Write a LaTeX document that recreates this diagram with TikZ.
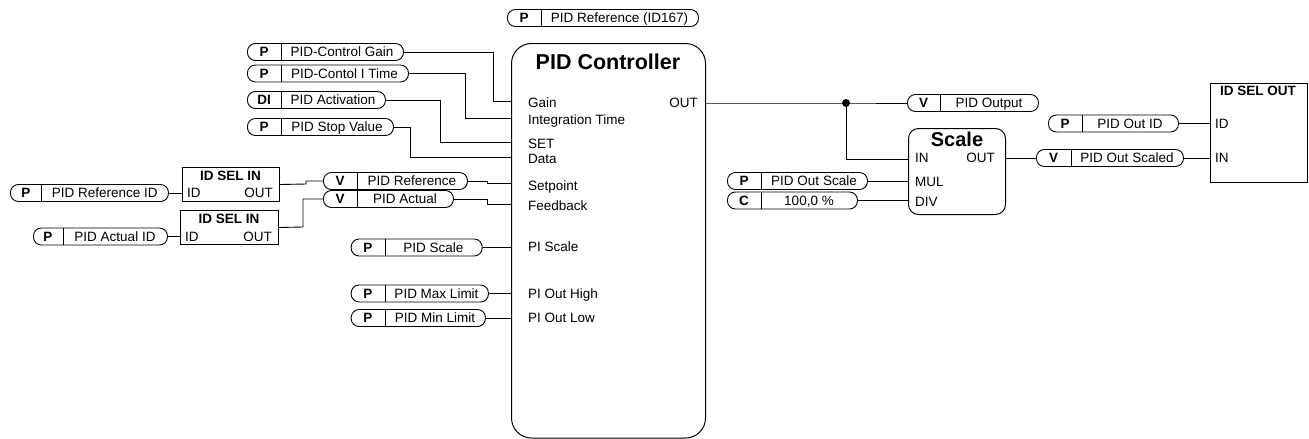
\documentclass[tikz,border=0pt]{standalone}
\usepackage{fontspec}
\setmainfont{Liberation Sans}
\tikzset{
  wire/.style={line width=0.9pt, black},
  pillbox/.style={draw, line width=0.9pt, rounded corners=8pt, minimum height=17pt, inner sep=0pt},
  txt/.style={inner sep=0pt, font=\fontsize{13.5}{16}\selectfont, text height=9.7pt, text depth=0pt},
  btxt/.style={txt, font=\bfseries\fontsize{13.5}{16}\selectfont},
  lbl/.style={txt, anchor=west},
  rlbl/.style={txt, anchor=east},
  blockbox/.style={draw, line width=1pt, inner sep=0pt, anchor=north west},
}
\newcommand\pillnode[7]{%
  \node[pillbox, minimum width={(#4-#2)*1pt}, anchor=west] (#1) at (#2,#5) {};
  \draw[line width=0.9pt] (#3,#5-8.5) -- (#3,#5+8.5);
  \node[btxt] (#1-t) at ({(#2+#3)/2},#5) {#6};
  \node[txt] (#1-l) at ({(#3+#4)/2},#5) {#7};
}
\begin{document}
\begin{tikzpicture}[x=1pt,y=-1pt]
\useasboundingbox (0,0) rectangle (1309,439);

% ---------- PID controller block ----------
\node[blockbox, rounded corners=20pt, minimum width=194pt, minimum height=394.5pt] (pid) at (511,43) {};
\node[font=\bfseries\fontsize{21.5}{24}\selectfont, inner sep=0pt] (pidtitle) at (608,62) {PID Controller};
\node[lbl] (lgain) at (528,103) {Gain};
\node[lbl] (lit) at (528,119.5) {Integration Time};
\node[lbl] (lset) at (528,143.5) {SET};
\node[lbl] (ldata) at (528,159) {Data};
\node[lbl] (lsp) at (528,186) {Setpoint};
\node[lbl] (lfb) at (528,206) {Feedback};
\node[lbl] (lpis) at (528,246.5) {PI Scale};
\node[lbl] (lhigh) at (528,293.5) {PI Out High};
\node[lbl] (llow) at (528,318) {PI Out Low};
\node[rlbl] (lout) at (698,103) {OUT};

\coordinate (pgain) at (511,101);
\coordinate (pit) at (511,118);
\coordinate (pset) at (511,142.5);
\coordinate (pdata) at (511,157);
\coordinate (psp) at (511,183.5);
\coordinate (pfb) at (511,204);
\coordinate (pout) at (705,103);

% ---------- pills ----------
\pillnode{topp}{507}{541}{698}{18}{P}{PID Reference (ID167)}
\pillnode{gainp}{247}{281}{403}{52}{P}{PID-Control Gain}
\pillnode{itimep}{247}{281}{408}{73.5}{P}{PID-Contol I Time}
\pillnode{actp}{247}{281}{385}{100}{DI}{PID Activation}
\pillnode{stopp}{247}{281}{393}{127}{P}{PID Stop Value}
\pillnode{refidp}{10}{41.7}{168}{193}{P}{PID Reference ID}
\pillnode{actidp}{33}{63}{167}{236.5}{P}{PID Actual ID}
\pillnode{vref}{323}{357}{467}{181}{V}{PID Reference}
\pillnode{vact}{323}{357}{453}{199}{V}{PID Actual}
\pillnode{scalep}{350.7}{385}{481.7}{247.5}{P}{PID Scale}
\pillnode{maxp}{350.7}{385}{488}{293.5}{P}{PID Max Limit}
\pillnode{minp}{350.7}{385}{485}{318}{P}{PID Min Limit}
\pillnode{voutp}{907}{940}{1038}{103}{V}{PID Output}
\pillnode{outscalep}{727}{761}{867}{181}{P}{PID Out Scale}
\pillnode{cp}{727}{761}{857}{200.5}{C}{100,0 \%}
\pillnode{outscaledp}{1036}{1071}{1183}{158}{V}{PID Out Scaled}
\pillnode{outidp}{1048}{1082}{1178}{123.5}{P}{PID Out ID}

% ---------- ID SEL IN blocks ----------
\node[blockbox, minimum width=97pt, minimum height=34pt] (idsel1) at (182,167) {};
\node[btxt] (idsel1t) at (230.5,175.5) {ID SEL IN};
\node[lbl] (idsel1id) at (187,193) {ID};
\node[rlbl] (idsel1out) at (273,193) {OUT};

\node[blockbox, minimum width=98pt, minimum height=34pt] (idsel2) at (180,210) {};
\node[btxt] (idsel2t) at (229,219) {ID SEL IN};
\node[lbl] (idsel2id) at (185,236.5) {ID};
\node[rlbl] (idsel2out) at (272,236.5) {OUT};

% ---------- Scale block ----------
\node[blockbox, rounded corners=10pt, minimum width=97pt, minimum height=86pt] (scale) at (908,128) {};
\node[font=\bfseries\fontsize{20}{22}\selectfont, inner sep=0pt] (scalet) at (957,139) {Scale};
\node[lbl] (sin) at (915,158) {IN};
\node[rlbl] (sout) at (995,158) {OUT};
\node[lbl] (smul) at (915,182) {MUL};
\node[lbl] (sdiv) at (915,202) {DIV};
\coordinate (scalein) at (908,159);
\coordinate (scaleout) at (1005,158);

% ---------- ID SEL OUT block ----------
\node[blockbox, minimum width=97pt, minimum height=99pt] (idselout) at (1210,83) {};
\node[btxt] (idseloutt) at (1258,91) {ID SEL OUT};
\node[lbl] (oid) at (1215,123.5) {ID};
\node[lbl] (oin) at (1215,158) {IN};

% ---------- connectors ----------
\draw[wire] (gainp.east) -| (493,101) -- (pgain);
\draw[wire] (itimep.east) -| (465,118) -- (pit);
\draw[wire] (actp.east) -| (440,142.5) -- (pset);
\draw[wire] (stopp.east) -| (410,157) -- (pdata);
\draw[wire] (vref.east) -| (487,183.5) -- (psp);
\draw[wire] (vact.east) -| (487,204) -- (pfb);
\draw[wire] (scalep.east) -- (scalep.east -| pid.west);
\draw[wire] (maxp.east) -- (maxp.east -| pid.west);
\draw[wire] (minp.east) -- (minp.east -| pid.west);

\draw[wire] (refidp.east) -- (refidp.east -| idsel1.west);
\draw[wire] (actidp.east) -- (actidp.east -| idsel2.west);
\draw[wire] (idsel1.east) -- (306,184) |- (vref.west);
\draw[wire] (idsel2.east) -- (303,227) |- (vact.west);

\coordinate (junc) at (846,103);
\draw[wire] (pout) -- (junc) -- (voutp.west);
\fill (junc) circle (4);
\draw[wire] (junc) |- (scalein);
\draw[wire] (outscalep.east) -- (outscalep.east -| scale.west);
\draw[wire] (cp.east) -- (cp.east -| scale.west);
\draw[wire] (scaleout) -- (outscaledp.west);
\draw[wire] (outscaledp.east) -- (outscaledp.east -| idselout.west);
\draw[wire] (outidp.east) -- (outidp.east -| idselout.west);
\end{tikzpicture}
\end{document}
